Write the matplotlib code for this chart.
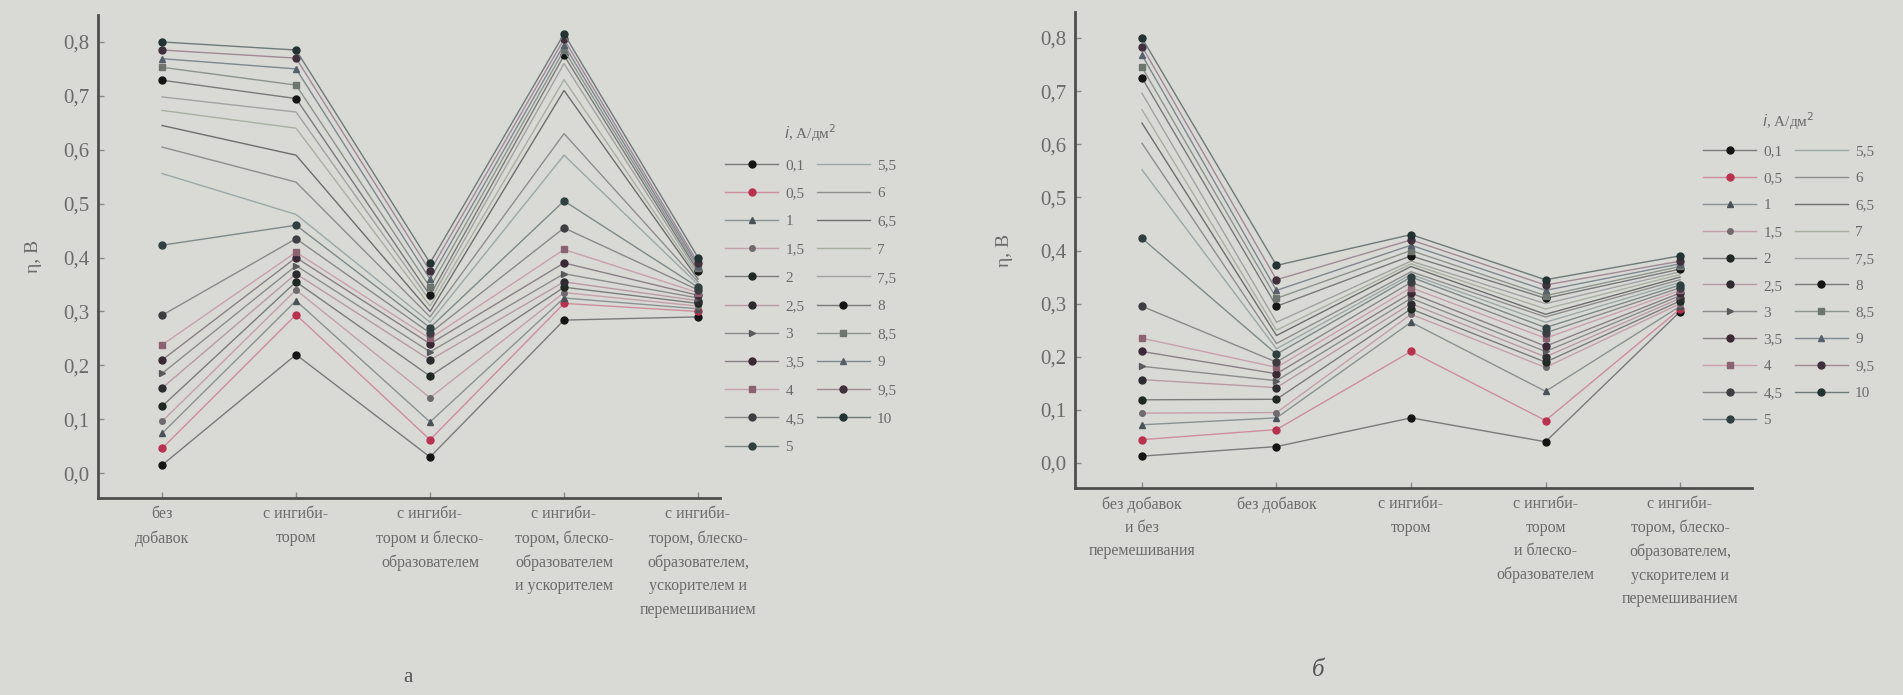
import matplotlib
matplotlib.use("Agg")
import matplotlib.pyplot as plt

plt.rcParams['font.family'] = ['Liberation Serif', 'DejaVu Serif']

# ---------------- data ----------------
currents = ["0,1", "0,5", "1", "1,5", "2", "2,5", "3", "3,5", "4", "4,5", "5",
            "5,5", "6", "6,5", "7", "7,5", "8", "8,5", "9", "9,5", "10"]

cats_a = ["без\nдобавок",
          "с ингиби-\nтором",
          "с ингиби-\nтором и блеско-\nобразователем",
          "с ингиби-\nтором, блеско-\nобразователем\nи ускорителем",
          "с ингиби-\nтором, блеско-\nобразователем,\nускорителем и\nперемешиванием"]

cats_b = ["без добавок\nи без\nперемешивания",
          "без добавок",
          "с ингиби-\nтором",
          "с ингиби-\nтором\nи блеско-\nобразователем",
          "с ингиби-\nтором, блеско-\nобразователем,\nускорителем и\nперемешиванием"]

# panel а: one list per category, values for currents in order above
a_c1 = [0.015, 0.046, 0.074, 0.096, 0.124, 0.158, 0.185, 0.210, 0.238, 0.293, 0.423,
        0.556, 0.605, 0.645, 0.673, 0.698, 0.729, 0.753, 0.769, 0.785, 0.800]
a_c2 = [0.220, 0.294, 0.320, 0.340, 0.355, 0.370, 0.385, 0.400, 0.410, 0.435, 0.460,
        0.480, 0.540, 0.590, 0.640, 0.670, 0.695, 0.720, 0.750, 0.770, 0.785]
a_c3 = [0.030, 0.062, 0.095, 0.140, 0.180, 0.210, 0.225, 0.240, 0.250, 0.260, 0.270,
        0.280, 0.290, 0.300, 0.310, 0.320, 0.330, 0.345, 0.360, 0.375, 0.390]
a_c4 = [0.284, 0.315, 0.325, 0.335, 0.345, 0.355, 0.370, 0.390, 0.415, 0.455, 0.505,
        0.590, 0.630, 0.710, 0.730, 0.760, 0.775, 0.785, 0.795, 0.805, 0.815]
a_c5 = [0.290, 0.300, 0.305, 0.310, 0.315, 0.320, 0.325, 0.330, 0.335, 0.340, 0.345,
        0.350, 0.355, 0.360, 0.365, 0.370, 0.375, 0.380, 0.385, 0.390, 0.400]

# panel б
b_c1 = [0.013, 0.044, 0.072, 0.094, 0.119, 0.157, 0.182, 0.210, 0.235, 0.295, 0.423,
        0.552, 0.602, 0.640, 0.665, 0.696, 0.725, 0.745, 0.768, 0.784, 0.800]
b_c2 = [0.031, 0.063, 0.085, 0.095, 0.120, 0.142, 0.155, 0.168, 0.180, 0.190, 0.205,
        0.215, 0.225, 0.240, 0.250, 0.265, 0.295, 0.310, 0.325, 0.345, 0.372]
b_c3 = [0.085, 0.210, 0.265, 0.280, 0.290, 0.300, 0.310, 0.320, 0.330, 0.340, 0.350,
        0.355, 0.360, 0.370, 0.375, 0.380, 0.390, 0.400, 0.410, 0.420, 0.430]
b_c4 = [0.040, 0.080, 0.135, 0.180, 0.190, 0.200, 0.210, 0.220, 0.235, 0.245, 0.255,
        0.265, 0.275, 0.280, 0.290, 0.300, 0.310, 0.315, 0.325, 0.335, 0.345]
b_c5 = [0.285, 0.290, 0.295, 0.300, 0.305, 0.310, 0.315, 0.320, 0.325, 0.330, 0.335,
        0.340, 0.345, 0.350, 0.355, 0.360, 0.365, 0.370, 0.375, 0.380, 0.390]

yticks = [0.0, 0.1, 0.2, 0.3, 0.4, 0.5, 0.6, 0.7, 0.8]
ytick_labels = ["0,0", "0,1", "0,2", "0,3", "0,4", "0,5", "0,6", "0,7", "0,8"]

# ---------------- styles ----------------
markers = ['o', 'o', '^', 'o', 'o', 'o', '>', 'o', 's', 'o', 'o',
           None, None, None, None, None, 'o', 's', '^', 'o', 'o']
mcolors = ['#151515', '#b8324e', '#4a5258', '#6e6a6e', '#202822', '#2c2c30', '#5a5a5e',
           '#3a2834', '#8a6272', '#3e3e42', '#304040',
           '#9aa8a8', '#8e8e8e', '#6a6a6a', '#a8b0a0', '#a0a0a0',
           '#151515', '#6e746e', '#56606a', '#40303c', '#233232']
lcolors = ['#7a7a7a', '#cc8e9e', '#8a9294', '#c4a0aa', '#7c7c7c', '#b89aa4', '#8c8c8c',
           '#8a8088', '#c8a0ae', '#8a8a8a', '#7e8a8a',
           '#9aa8a8', '#8e8e8e', '#6e6e6e', '#a8b0a0', '#a2a2a2',
           '#7a7a7a', '#8c948c', '#7e8890', '#a08a96', '#6e7a7a']
msizes = [5, 5, 5, 4, 5, 5, 4, 5, 4, 5, 5, 0, 0, 0, 0, 0, 5, 4, 5, 5, 5]

BG = '#d9d9d6'
TXT = '#6a6a6a'
SP = '#4e4e4e'

W, H = 1903, 695
fig = plt.figure(figsize=(W / 100, H / 100), dpi=100, facecolor=BG)


def axes_px(x0, x1, ytop, ybot):
    return fig.add_axes([x0 / W, 1 - ybot / H, (x1 - x0) / W, (ybot - ytop) / H])


def draw_panel(ax, cols, cats, xlim, ylim, ylab_x, lsp):
    ax.set_facecolor(BG)
    xs = list(range(len(cats)))
    handles = []
    for i, name in enumerate(currents):
        ys = [c[i] for c in cols]
        h, = ax.plot(xs, ys, color=lcolors[i], lw=1.0,
                     marker=markers[i] if markers[i] else None,
                     ms=msizes[i], mfc=mcolors[i], mec=mcolors[i], label=name,
                     zorder=3 if markers[i] else 2)
        handles.append(h)
    ax.set_xlim(*xlim)
    ax.set_ylim(*ylim)
    ax.set_xticks(xs)
    ax.set_xticklabels(cats, fontsize=11.5, color=TXT, linespacing=lsp,
                       va='top')
    ax.set_yticks(yticks)
    ax.set_yticklabels(ytick_labels, fontsize=15, color=TXT)
    ax.tick_params(axis='both', direction='in', length=4, width=1, color='#8a8a8a')
    ax.tick_params(axis='x', pad=6)
    ax.tick_params(axis='y', pad=6)
    for s in ['top', 'right']:
        ax.spines[s].set_visible(False)
    for s in ['left', 'bottom']:
        ax.spines[s].set_color(SP)
        ax.spines[s].set_linewidth(2.0)
    ax.set_ylabel("η, В", fontsize=14, color=TXT)
    ax.yaxis.set_label_coords(ylab_x, 0.5)
    return handles


# panel а
ax_a = axes_px(98, 720, 15, 498)
h_a = draw_panel(ax_a, [a_c1, a_c2, a_c3, a_c4, a_c5], cats_a,
                 (-0.478, 4.164), (-0.046, 0.85), -0.09, 1.62)
# panel б
ax_b = axes_px(1075, 1752, 12, 488)
h_b = draw_panel(ax_b, [b_c1, b_c2, b_c3, b_c4, b_c5], cats_b,
                 (-0.498, 4.535), (-0.047, 0.849), -0.092, 1.6)

leg_kw = dict(loc='upper left', ncol=2, frameon=False, fontsize=11,
              title="$i$, А/дм$^2$", title_fontsize=11, borderaxespad=0,
              borderpad=0, handlelength=3.5, handletextpad=0.45,
              columnspacing=0.8, labelcolor=TXT)
leg_a = fig.legend(handles=h_a, bbox_to_anchor=(725 / W, 1 - 122 / H),
                   labelspacing=0.95, **leg_kw)
leg_a.get_title().set_color(TXT)
leg_b = fig.legend(handles=h_b, bbox_to_anchor=(1703 / W, 1 - 110 / H),
                   labelspacing=0.86, **leg_kw)
leg_b.get_title().set_color(TXT)

fig.text(408 / W, 1 - 678 / H, "а", fontsize=15, color='#555555', ha='center', va='center')
fig.text(1318 / W, 1 - 670 / H, "б", fontsize=18, color='#555555', ha='center',
         va='center', style='italic')

fig.savefig("out.png", dpi=100, facecolor=BG)
